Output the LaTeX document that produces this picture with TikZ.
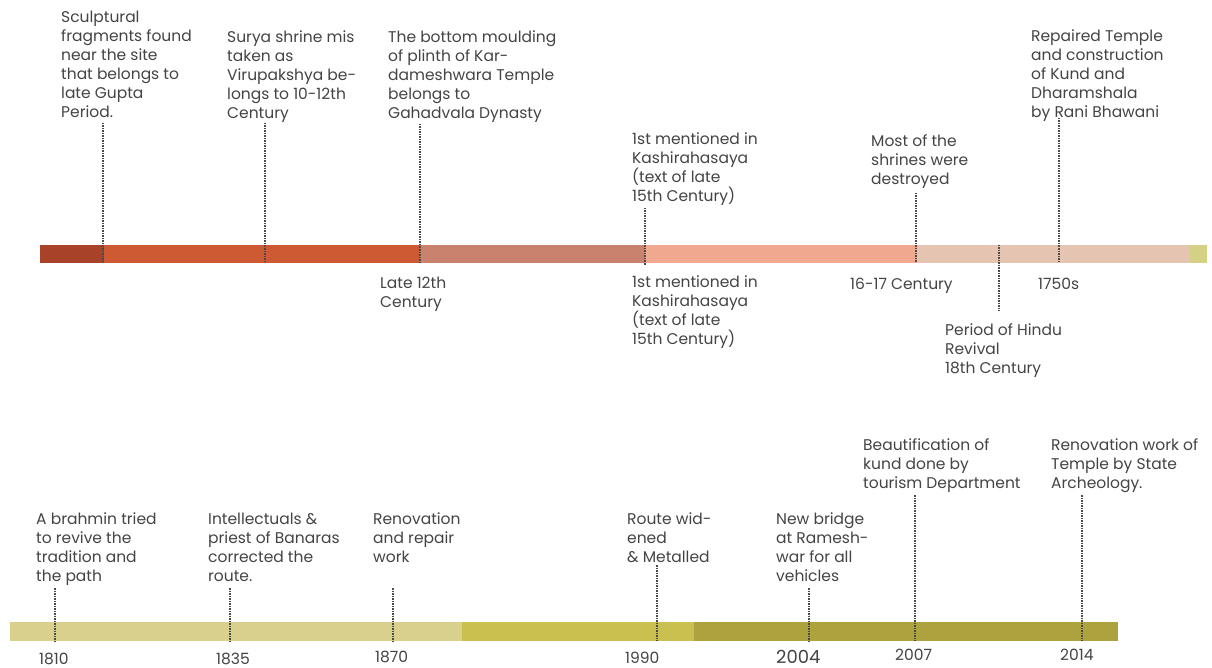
\documentclass[tikz,border=0pt]{standalone}
\usepackage{fontspec}
\setmainfont{Poppins}
\definecolor{txtgray}{HTML}{444444}
\definecolor{tickgray}{HTML}{4A4A4A}
\definecolor{ta}{HTML}{A8432A}
\definecolor{tb}{HTML}{CE5A34}
\definecolor{tc}{HTML}{C8826E}
\definecolor{td}{HTML}{F0A88E}
\definecolor{te}{HTML}{E6C4B2}
\definecolor{tf}{HTML}{D4D084}
\definecolor{ba}{HTML}{D8D08C}
\definecolor{bb}{HTML}{C9C050}
\definecolor{bc}{HTML}{ADA33E}
\begin{document}
\begin{tikzpicture}[x=1pt,y=-1pt,
  lbl/.style={anchor=base west, inner sep=0pt, align=left, font=\fontsize{15.5}{19}\selectfont, text=txtgray},
  yearbig/.style={lbl, font=\fontsize{18}{21}\selectfont},
  tick/.style={draw=tickgray, line width=1.6pt, dash pattern=on 1.5pt off 1pt},
]
\useasboundingbox[fill=white] (0,0) rectangle (1212,668);

% top bar
\fill[ta] (40,245) rectangle (104,263);
\fill[tb] (104,245) rectangle (420,263);
\fill[tc] (420,245) rectangle (645,263);
\fill[td] (645,245) rectangle (917,263);
\fill[te] (917,245) rectangle (1190,263);
\fill[tf] (1190,245) rectangle (1207,263);

% bottom bar
\fill[ba] (10,622) rectangle (462,641);
\fill[bb] (462,622) rectangle (694,641);
\fill[bc] (694,622) rectangle (1118,641);

% top texts (anchor = baseline of last line)
\node[lbl] (t1) at (61,118) {Sculptural\\fragments found\\near the site\\that belongs to\\late Gupta\\Period.};
\node[lbl] (t2) at (227,119) {Surya shrine mis\\taken as\\Virupakshya be-\\longs to 10-12th\\Century};
\node[lbl] (t3) at (388,119) {The bottom moulding\\of plinth of Kar-\\dameshwara Temple\\belongs to\\Gahadvala Dynasty};
\node[lbl] (t4) at (632,202) {1st mentioned in\\Kashirahasaya\\(text of late\\15th Century)};
\node[lbl] (t5) at (871,185) {Most of the\\shrines were\\destroyed};
\node[lbl] (t6) at (1031,118) {Repaired Temple\\and construction\\of Kund and\\Dharamshala\\by Rani Bhawani};

% below top bar
\node[lbl] (u1) at (380,307) {Late 12th\\Century};
\node[lbl] (u2) at (632,344) {1st mentioned in\\Kashirahasaya\\(text of late\\15th Century)};
\node[lbl] (u3) at (850,290) {16-17 Century};
\node[lbl] (u4) at (1038,290) {1750s};
\node[lbl] (u5) at (945,373) {Period of Hindu\\Revival\\18th Century};

% bottom texts
\node[lbl] (c1) at (36,581) {A brahmin tried\\to revive the\\tradition and\\the path};
\node[lbl] (c2) at (208,581) {Intellectuals \&\\priest of Banaras\\corrected the\\route.};
\node[lbl] (c3) at (373,562) {Renovation\\and repair\\work};
\node[lbl] (c4) at (627,562) {Route wid-\\ened\\\& Metalled};
\node[lbl] (c5) at (776,581) {New bridge\\at Ramesh-\\war for all\\vehicles};
\node[lbl] (c6) at (863,488) {Beautification of\\kund done by\\tourism Department};
\node[lbl] (c7) at (1051,488) {Renovation work of\\Temple by State\\Archeology.};

% years
\node[lbl] (y1) at (39,664) {1810};
\node[lbl] (y2) at (216,664) {1835};
\node[lbl] (y3) at (375,662) {1870};
\node[lbl] (y4) at (625,663) {1990};
\node[yearbig] (y5) at (776,663) {2004};
\node[lbl] (y6) at (895,660) {2007};
\node[lbl] (y7) at (1060,660) {2014};

% tick coordinates (top)
\coordinate (k1a) at (103,123); \coordinate (k1b) at (103,263);
\coordinate (k2a) at (265,123); \coordinate (k2b) at (265,263);
\coordinate (k3a) at (420,124); \coordinate (k3b) at (420,263);
\coordinate (k4a) at (645,208); \coordinate (k4b) at (645,265);
\coordinate (k5a) at (916,193); \coordinate (k5b) at (916,263);
\coordinate (k6a) at (1059,118); \coordinate (k6b) at (1059,263);
\coordinate (k7a) at (999,245); \coordinate (k7b) at (999,311);
% tick coordinates (bottom)
\coordinate (m1a) at (55,588); \coordinate (m1b) at (55,641);
\coordinate (m2a) at (230,588); \coordinate (m2b) at (230,641);
\coordinate (m3a) at (393,588); \coordinate (m3b) at (393,641);
\coordinate (m4a) at (657,565); \coordinate (m4b) at (657,641);
\coordinate (m5a) at (809,588); \coordinate (m5b) at (809,641);
\coordinate (m6a) at (915,495); \coordinate (m6b) at (915,641);
\coordinate (m7a) at (1082,495); \coordinate (m7b) at (1082,641);

\foreach \k in {k1,k2,k3,k4,k5,k6,k7,m1,m2,m3,m4,m5,m6,m7}
  \draw[tick] (\k a) -- (\k b);
\end{tikzpicture}
\end{document}
